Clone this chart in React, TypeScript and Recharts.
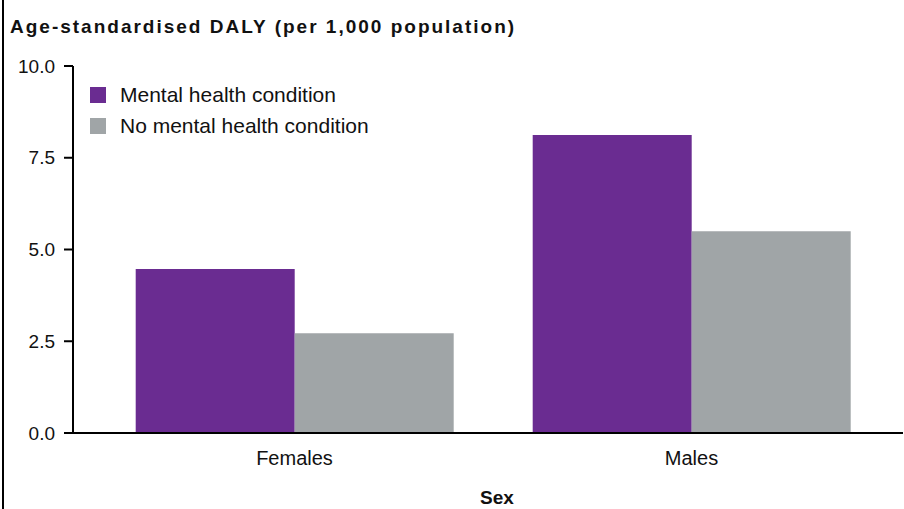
import { BarChart, Bar, XAxis, YAxis } from 'recharts'

const categories = ['Females', 'Males']
const withCondition = [4.47, 8.12]
const withoutCondition = [2.72, 5.5]
const yTicks = [0, 2.5, 5, 7.5, 10]
const seriesNames = ['Mental health condition', 'No mental health condition']

const PURPLE = '#6a2c91'
const GREY = '#a0a5a7'
const FONT = '"Liberation Sans", Arial, sans-serif'
const seriesColors = [PURPLE, GREY]

const data = categories.map((sex, i) => ({
  sex,
  mental: withCondition[i],
  noMental: withoutCondition[i],
}))

export default function App() {
  return (
    <div style={{ position: 'absolute', left: 0, top: 0, width: 904, height: 509, background: '#fff', fontFamily: FONT }}>
      <div style={{ position: 'absolute', left: 2, top: 0, width: 2, height: 509, background: '#000' }} />
      <div style={{
        position: 'absolute', left: 10, top: 16, fontSize: 19, fontWeight: 700,
        letterSpacing: 2, color: '#111', whiteSpace: 'nowrap',
      }}>
        Age-standardised DALY (per 1,000 population)
      </div>
      <BarChart
        width={904}
        height={509}
        data={data}
        margin={{ top: 66, right: 1, bottom: 0, left: 0 }}
        barCategoryGap="10%"
        barGap={0}
        style={{ position: 'absolute', left: 0, top: 0 }}
      >
        <XAxis
          dataKey="sex"
          height={76}
          padding={{ left: 23, right: 13 }}
          axisLine={{ stroke: '#000', strokeWidth: 2 }}
          tickLine={false}
          tickMargin={12}
          tick={{ fill: '#111', fontSize: 20, fontFamily: FONT }}
          label={{ value: 'Sex', position: 'insideBottom', offset: 5, dx: 9, fill: '#111', fontSize: 19, fontWeight: 700, fontFamily: FONT }}
        />
        <YAxis
          width={73}
          domain={[0, 10]}
          ticks={yTicks}
          tickFormatter={(v: number) => v.toFixed(1)}
          axisLine={{ stroke: '#000', strokeWidth: 2 }}
          tickLine={{ stroke: '#000', strokeWidth: 2 }}
          tickSize={9}
          tickMargin={9}
          tick={{ fill: '#111', fontSize: 19, fontFamily: FONT }}
        />
        <Bar dataKey="mental" name={seriesNames[0]} fill={PURPLE} isAnimationActive={false} />
        <Bar dataKey="noMental" name={seriesNames[1]} fill={GREY} isAnimationActive={false} />
      </BarChart>
      <div style={{ position: 'absolute', left: 90, top: 79 }}>
        {seriesNames.map((name, i) => (
          <div key={name} style={{ display: 'flex', alignItems: 'center', height: 31 }}>
            <span style={{ width: 16, height: 16, background: seriesColors[i], marginRight: 14 }} />
            <span style={{ fontSize: 21, color: '#111' }}>{name}</span>
          </div>
        ))}
      </div>
    </div>
  )
}
